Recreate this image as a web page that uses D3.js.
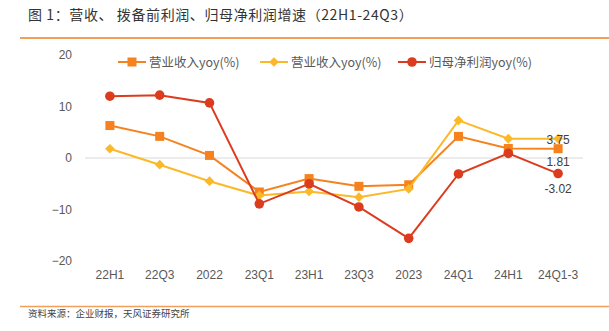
<!DOCTYPE html>
<html><head><meta charset="utf-8">
<script src="https://cdn.jsdelivr.net/npm/d3@7"></script>
<style>
body{margin:0;background:#fff;}
svg{display:block;}
</style></head>
<body>
<script>
const categories = ["22H1","22Q3","2022","23Q1","23H1","23Q3","2023","24Q1","24H1","24Q1-3"];
const revenue = [6.3, 4.2, 0.5, -6.6, -4.0, -5.5, -5.2, 4.2, 1.85, 1.81];
const preProvision = [1.8, -1.3, -4.5, -7.3, -6.5, -7.6, -6.0, 7.3, 3.75, 3.75];
const netProfit = [12.0, 12.2, 10.7, -8.9, -5.0, -9.5, -15.6, -3.1, 0.9, -3.02];
const yTicks = [20, 10, 0, -10, -20];
const seriesNames = ["营业收入yoy(%)", "营业收入yoy(%)", "归母净利润yoy(%)"];
const title = "图 1：营收、 拨备前利润、归母净利润增速（22H1-24Q3）";
const source = "资料来源：企业财报，天风证券研究所";

const W = 609, H = 331;
const svg = d3.select("body").append("svg").attr("width", W).attr("height", H);
const font = "'Noto Sans CJK SC', 'Liberation Sans', sans-serif";

svg.append("text").attr("x", 28).attr("y", 20).attr("font-family", font)
  .attr("font-size", 14).attr("letter-spacing", 0.6).attr("fill", "#333").text(title);
svg.append("line").attr("x1", 20).attr("x2", W).attr("y1", 38).attr("y2", 38)
  .attr("stroke", "#F0A05A").attr("stroke-width", 2);
svg.append("line").attr("x1", 20).attr("x2", W).attr("y1", 306.5).attr("y2", 306.5)
  .attr("stroke", "#F0A05A").attr("stroke-width", 1.5);
svg.append("text").attr("x", 28).attr("y", 316.5).attr("font-family", font)
  .attr("font-size", 9.5).attr("fill", "#444").text(source);

const x = d3.scaleBand().domain(categories).range([85, 583]);
const y = d3.scaleLinear().domain([-20, 20]).range([261, 55]);

// zero line
svg.append("line").attr("x1", 85).attr("x2", 583).attr("y1", y(0)).attr("y2", y(0))
  .attr("stroke", "#d9d9d9").attr("stroke-width", 1);

const yAxis = d3.axisLeft(y).tickValues(yTicks).tickSize(0).tickPadding(0);
const gy = svg.append("g").attr("transform", "translate(72,0)").call(yAxis);
gy.select(".domain").remove();
gy.selectAll("text").attr("font-family", "'Liberation Sans', Arial, sans-serif")
  .attr("font-size", 12).attr("fill", "#595959");

const xAxis = d3.axisBottom(x).tickSize(0).tickPadding(0);
const gx = svg.append("g").attr("transform", "translate(0,270)").call(xAxis);
gx.select(".domain").remove();
gx.selectAll("text").attr("font-family", "'Liberation Sans', Arial, sans-serif")
  .attr("font-size", 12).attr("fill", "#595959");

const cx = d => x(d) + x.bandwidth() / 2;
const colors = ["#F5821F", "#FBB829", "#DC3C1E"];
const data = [revenue, preProvision, netProfit];
const shapes = ["square", "diamond", "circle"];

function drawMarker(g, shape, px, py, color) {
  if (shape === "square") {
    g.append("rect").attr("x", px - 4.5).attr("y", py - 4.5).attr("width", 9).attr("height", 9).attr("fill", color);
  } else if (shape === "diamond") {
    g.append("path").attr("d", d3.symbol(d3.symbolDiamond2, 60)()).attr("transform", `translate(${px},${py})`).attr("fill", color);
  } else {
    g.append("circle").attr("cx", px).attr("cy", py).attr("r", 4.8).attr("fill", color);
  }
}

const line = d3.line().x((d, i) => cx(categories[i])).y(d => y(d));
data.forEach((vals, k) => {
  const g = svg.append("g");
  g.append("path").attr("d", line(vals)).attr("fill", "none").attr("stroke", colors[k]).attr("stroke-width", 2);
  vals.forEach((v, i) => drawMarker(g, shapes[k], cx(categories[i]), y(v), colors[k]));
});

// data labels at last point
const lastIdx = categories.length - 1;
const lblFont = "'Liberation Sans', Arial, sans-serif";
svg.append("text").attr("x", cx(categories[lastIdx])).attr("y", y(preProvision[lastIdx]) + 5)
  .attr("text-anchor", "middle").attr("font-family", lblFont).attr("font-size", 12).attr("fill", "#404040")
  .text(preProvision[lastIdx].toFixed(2));
svg.append("text").attr("x", cx(categories[lastIdx])).attr("y", y(revenue[lastIdx]) + 17)
  .attr("text-anchor", "middle").attr("font-family", lblFont).attr("font-size", 12).attr("fill", "#404040")
  .text(revenue[lastIdx].toFixed(2));
svg.append("text").attr("x", cx(categories[lastIdx])).attr("y", y(netProfit[lastIdx]) + 19)
  .attr("text-anchor", "middle").attr("font-family", lblFont).attr("font-size", 12).attr("fill", "#404040")
  .text(netProfit[lastIdx].toFixed(2));

// legend
const legendX = [118, 260, 398];
const legY = 62;
seriesNames.forEach((name, k) => {
  const g = svg.append("g");
  g.append("line").attr("x1", legendX[k]).attr("x2", legendX[k] + 28).attr("y1", legY).attr("y2", legY)
    .attr("stroke", colors[k]).attr("stroke-width", 2);
  drawMarker(g, shapes[k], legendX[k] + 14, legY, colors[k]);
  g.append("text").attr("x", legendX[k] + 31).attr("y", legY + 4.5).attr("font-family", font)
    .attr("font-size", 12.5).attr("fill", "#595959").text(name);
});
</script>
</body></html>
